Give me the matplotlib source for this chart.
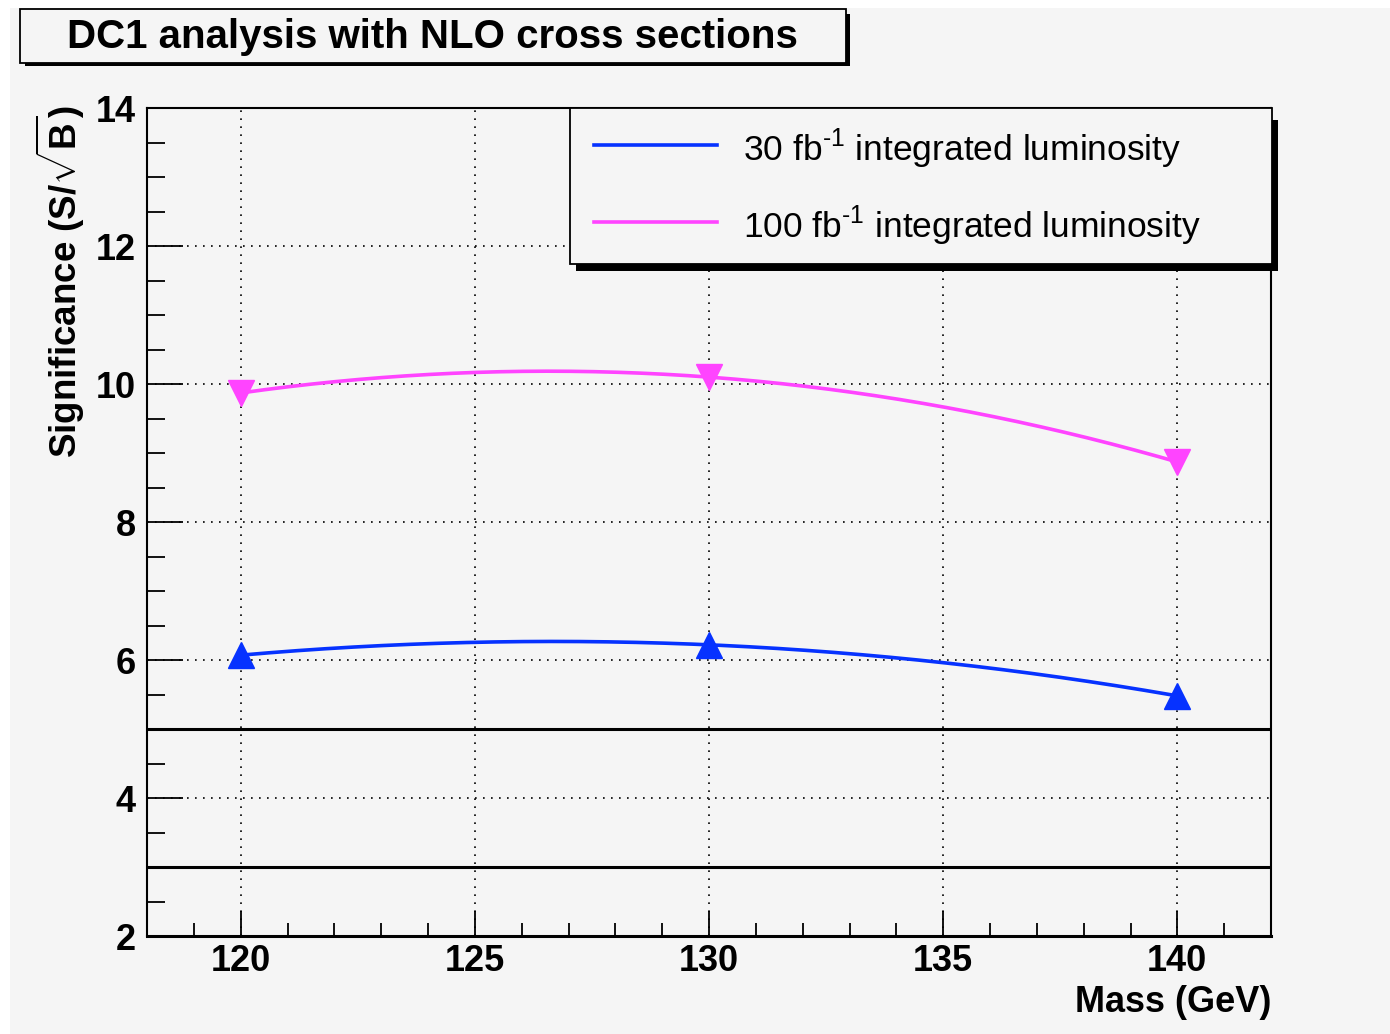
import numpy as np
import matplotlib
matplotlib.use("Agg")
import matplotlib.pyplot as plt
from matplotlib.patches import Rectangle
from matplotlib.lines import Line2D
from matplotlib import font_manager

# data
mass = [120, 130, 140]
sig_30 = [6.07, 6.22, 5.48]
sig_100 = [9.87, 10.10, 8.87]
labels = [r"30 fb$^{\text{-1}}$ integrated luminosity",
          r"100 fb$^{\text{-1}}$ integrated luminosity"]
colors = ["#0632ff", "#ff44ff"]
limits = [5, 3]

names = {f.name for f in font_manager.fontManager.ttflist}
fam = "Liberation Sans Narrow" if "Liberation Sans Narrow" in names else "Liberation Sans"
plt.rcParams["font.family"] = fam
plt.rcParams["mathtext.fontset"] = "custom"
plt.rcParams["mathtext.rm"] = fam
plt.rcParams["mathtext.bf"] = fam + ":bold"

W, H = 1390, 1034
fig = plt.figure(figsize=(W / 100, H / 100), dpi=100, facecolor="white")
bg = "#f5f5f5"


def fx(px):
    return px / W


def fy(py):
    return 1 - py / H


fig.add_artist(Rectangle((fx(10), 0), fx(1380), fy(8), transform=fig.transFigure,
                         facecolor=bg, edgecolor="none", zorder=-10))

ax = fig.add_axes([fx(147), fy(936), fx(1271 - 147), (936 - 108) / H])
ax.set_facecolor(bg)
ax.set_xlim(118, 142)
ax.set_ylim(2, 14)

# smooth curves through the points (like ROOT's "C" option)
for y, c in [(sig_30, colors[0]), (sig_100, colors[1])]:
    coef = np.polyfit(mass, y, 2)
    xs = np.linspace(mass[0], mass[-1], 200)
    ax.plot(xs, np.polyval(coef, xs), color=c, lw=2.6, zorder=3)
ax.plot(mass, sig_30, ls="none", marker="^", ms=19, color=colors[0], zorder=4)
ax.plot(mass, sig_100, ls="none", marker="v", ms=19, color=colors[1], zorder=4)

for v in limits:
    ax.axhline(v, color="black", lw=2.2, zorder=2)

ax.set_xticks([120, 125, 130, 135, 140])
ax.set_xticks(np.arange(119, 142, 1), minor=True)
ax.set_yticks(np.arange(2, 15, 2))
ax.set_yticks(np.arange(2, 14.01, 0.5), minor=True)
ax.grid(True, which="major", color="black", lw=1.2, ls=(0, (1, 3.8)), zorder=1)
ax.tick_params(axis="x", which="major", direction="in", length=18, width=1.3,
               top=False, pad=6, labelsize=26)
ax.tick_params(axis="x", which="minor", direction="in", length=9.5, width=1.3, top=False)
ax.tick_params(axis="y", which="major", direction="in", length=26, width=1.3,
               right=False, pad=8, labelsize=26)
ax.tick_params(axis="y", which="minor", direction="in", length=13, width=1.3, right=False)
for lab in ax.get_xticklabels() + ax.get_yticklabels():
    lab.set_fontweight("bold")
for s in ["left", "top", "right"]:
    ax.spines[s].set_linewidth(1.5)
ax.spines["bottom"].set_linewidth(2.2)

# axis titles
fig.text(fx(60), fy(106), r"Significance (S/$\mathbf{\sqrt{B}}$)", rotation=90,
         ha="center", va="top", fontsize=26.5, fontweight="bold")
fig.text(fx(1271), fy(1002), "Mass (GeV)", ha="right", va="center",
         fontsize=26, fontweight="bold")

# title box with shadow
fig.add_artist(Rectangle((fx(25), fy(66)), fx(825), (66 - 14) / H, transform=fig.transFigure,
                         facecolor="black", edgecolor="none", zorder=5))
fig.add_artist(Rectangle((fx(20), fy(63)), fx(826), (63 - 9) / H, transform=fig.transFigure,
                         facecolor=bg, edgecolor="black", lw=1.3, zorder=6))
fig.text(fx(432), fy(37), "DC1 analysis with NLO cross sections", ha="center", va="center",
         fontsize=29, fontweight="bold", zorder=7)

# legend box with shadow
fig.add_artist(Rectangle((fx(576), fy(271)), fx(702), (271 - 120) / H, transform=fig.transFigure,
                         facecolor="black", edgecolor="none", zorder=5))
fig.add_artist(Rectangle((fx(570), fy(264)), fx(702), (264 - 108) / H, transform=fig.transFigure,
                         facecolor=bg, edgecolor="black", lw=1.3, zorder=6))
for i, (lab, c) in enumerate(zip(labels, colors)):
    yy = [145, 222][i]
    fig.add_artist(Line2D([fx(594), fx(717)], [fy(yy), fy(yy)], transform=fig.transFigure,
                          color=c, lw=2.6, zorder=7))
    fig.text(fx(743), fy(yy + 4), lab, ha="left", va="center", fontsize=25.5, zorder=7)

fig.savefig("out.png", dpi=100, facecolor=fig.get_facecolor())
